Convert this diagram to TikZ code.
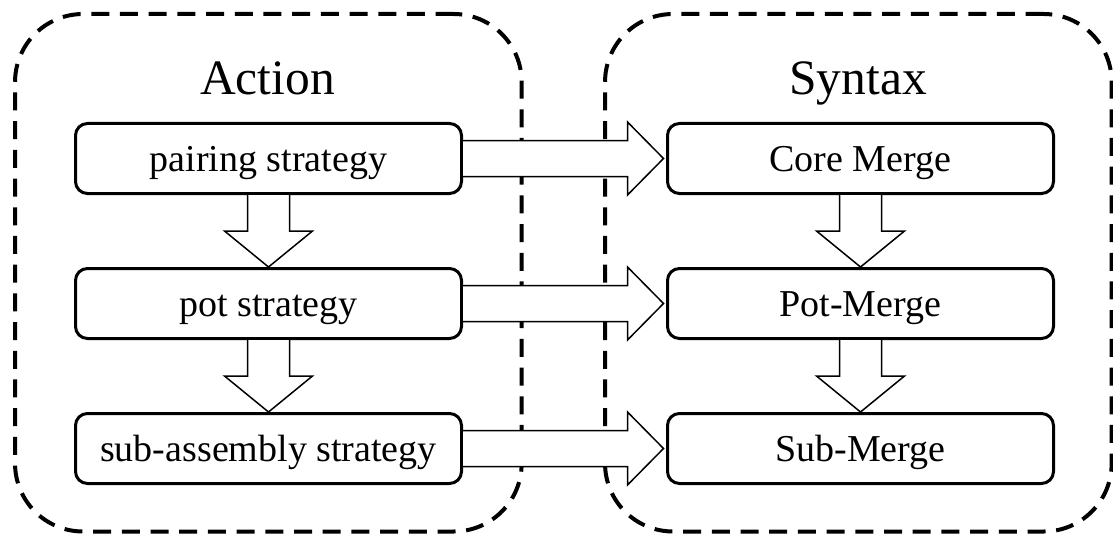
\documentclass[tikz,border=0pt]{standalone}
\usepackage{fontspec}
\setmainfont{Liberation Serif}
\usetikzlibrary{calc}

% block arrow pointing right, from the east side of #1 to the west side of #2
\newcommand{\blockright}[2]{%
  \draw[blockarrow] ($(#1.east)+(0,-18)$) -- ($(#2.west)+(-38.5,-18)$)
    -- ($(#2.west)+(-38.5,-36.5)$) -- ($(#2.west)+(-2.5,0)$)
    -- ($(#2.west)+(-38.5,36.5)$) -- ($(#2.west)+(-38.5,18)$)
    -- ($(#1.east)+(0,18)$);}
% block arrow pointing down, from the south side of #1 to the north side of #2
\newcommand{\blockdown}[2]{%
  \draw[blockarrow] ($(#1.south)+(-21,0)$) -- ($(#2.north)+(-21,-36)$)
    -- ($(#2.north)+(-44,-36)$) -- (#2.north)
    -- ($(#2.north)+(44,-36)$) -- ($(#2.north)+(21,-36)$)
    -- ($(#1.south)+(21,0)$);}

\begin{document}
\begin{tikzpicture}[x=0.5pt,y=-0.5pt,
  groupbox/.style={draw=black, line width=2pt, dash pattern=on 9pt off 5.35pt,
    rounded corners=34pt, minimum width=253.3pt, minimum height=258.75pt,
    inner sep=0pt},
  stagebox/.style={draw=black, line width=1.5pt, rounded corners=6pt,
    minimum width=193pt, minimum height=35pt, inner sep=0pt,
    text height=12.5pt, text depth=0pt,
    font=\fontsize{19pt}{22pt}\selectfont},
  grouptitle/.style={anchor=base, inner sep=0pt,
    font=\fontsize{24.75pt}{28pt}\selectfont},
  blockarrow/.style={draw=black, fill=white, line width=0.75pt,
    line join=miter}]
\useasboundingbox (0,0) rectangle (1113,535);

% dashed group frames
\node[groupbox] (actgrp) at (268.35,272.75) {};
\node[groupbox] (syngrp) at (858.35,272.75) {};

% group titles
\node[grouptitle] (acttitle) at (267.5,95) {Action};
\node[grouptitle] (syntitle) at (858,95) {Syntax};

% left column
\node[stagebox] (pair) at (268.5,158.5) {pairing strategy};
\node[stagebox] (pot)  at (268.5,303.5) {pot strategy};
\node[stagebox] (sub)  at (268.5,448.5) {sub-assembly strategy};

% right column
\node[stagebox] (core)  at (860.5,158.5) {Core Merge};
\node[stagebox] (potm)  at (860.5,303.5) {Pot-Merge};
\node[stagebox] (subm)  at (860.5,448.5) {Sub-Merge};

% vertical flow
\blockdown{pair}{pot}
\blockdown{pot}{sub}
\blockdown{core}{potm}
\blockdown{potm}{subm}

% horizontal mapping
\blockright{pair}{core}
\blockright{pot}{potm}
\blockright{sub}{subm}
\end{tikzpicture}
\end{document}
